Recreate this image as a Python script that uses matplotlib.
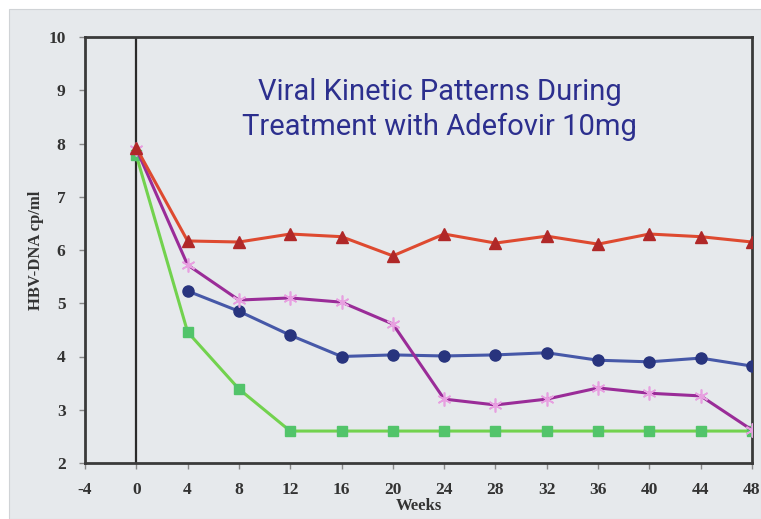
import matplotlib.pyplot as plt
from matplotlib.patches import Rectangle

# data
weeks = [0, 4, 8, 12, 16, 20, 24, 28, 32, 36, 40, 44, 48]
red_tri = [7.92, 6.17, 6.15, 6.3, 6.25, 5.89, 6.3, 6.13, 6.26, 6.11, 6.3, 6.25, 6.15]
purple_star = [7.9, 5.72, 5.06, 5.1, 5.02, 4.61, 3.2, 3.09, 3.2, 3.41, 3.31, 3.26, 2.62]
green_sq = [7.78, 4.46, 3.39, 2.6, 2.6, 2.6, 2.6, 2.6, 2.6, 2.6, 2.6, 2.6, 2.6]
blue_weeks = [4, 8, 12, 16, 20, 24, 28, 32, 36, 40, 44, 48]
blue_circ = [5.23, 4.85, 4.4, 4.0, 4.03, 4.01, 4.03, 4.07, 3.93, 3.9, 3.97, 3.82]

x_ticks = [-4, 0, 4, 8, 12, 16, 20, 24, 28, 32, 36, 40, 44, 48]
y_ticks = [2, 3, 4, 5, 6, 7, 8, 9, 10]

bg = "#e6e9ec"

fig = plt.figure(figsize=(7.61, 5.19), dpi=100)
fig.patch.set_facecolor("white")
# grey panel behind the chart
fig.patches.append(Rectangle((9 / 761, 0), 1 - 9 / 761, 1 - 9 / 519,
                             transform=fig.transFigure, facecolor=bg,
                             edgecolor="#d0d3d6", lw=0.8, zorder=-10))

ax = fig.add_axes([85 / 761, 1 - 463 / 519, 667 / 761, 426 / 519])
ax.set_facecolor(bg)

ax.plot(weeks, green_sq, color="#72d24e", lw=2.2, marker="s", ms=7,
        mfc="#52c46a", mec="#52c46a", zorder=3)
ax.plot(blue_weeks, blue_circ, color="#4658a8", lw=2.2, marker="o", ms=8,
        mfc="#28347e", mec="#28347e", zorder=3)
ax.plot(weeks, purple_star, color="#9a2c98", lw=2.2, marker=(6, 2, 0), ms=10,
        mec="#e7a0e0", mew=1.2, zorder=3)
ax.plot(weeks, red_tri, color="#de4a30", lw=2.2, marker="^", ms=8,
        mfc="#b02828", mec="#b02828", zorder=4)

ax.axvline(0, color="#2a2a2a", lw=1.6, zorder=2)

ax.set_xlim(-4, 48)
ax.set_ylim(2, 10)
ax.set_xticks(x_ticks)
ax.set_yticks(y_ticks)
for s in ax.spines.values():
    s.set_color("#3a3a3a")
    s.set_linewidth(2)

ax.set_xticklabels([str(t) for t in x_ticks])
ax.set_yticklabels([str(t) for t in y_ticks])
ax.tick_params(length=4, width=1, color="#888888", pad=10)
for lbl in ax.get_xticklabels() + ax.get_yticklabels():
    lbl.set_fontfamily(["Liberation Serif", "DejaVu Serif"])
    lbl.set_fontweight("bold")
    lbl.set_fontsize(12.5)
    lbl.set_color("#333333")

ax.set_xlabel("Weeks", fontfamily="Liberation Serif", fontweight="bold",
              fontsize=12, color="#333333", labelpad=0)
ax.set_ylabel("HBV-DNA cp/ml", fontfamily="Liberation Serif", fontweight="bold",
              fontsize=12, color="#333333", labelpad=3)

ax.text(0.532, 0.83, "Viral Kinetic Patterns During\nTreatment with Adefovir 10mg",
        transform=ax.transAxes, ha="center", va="center", color="#2c2f8e",
        fontsize=21, linespacing=1.27,
        fontfamily=["Liberation Sans Narrow", "Roboto", "DejaVu Sans"])

fig.savefig("out.png", dpi=100, facecolor=fig.get_facecolor())
